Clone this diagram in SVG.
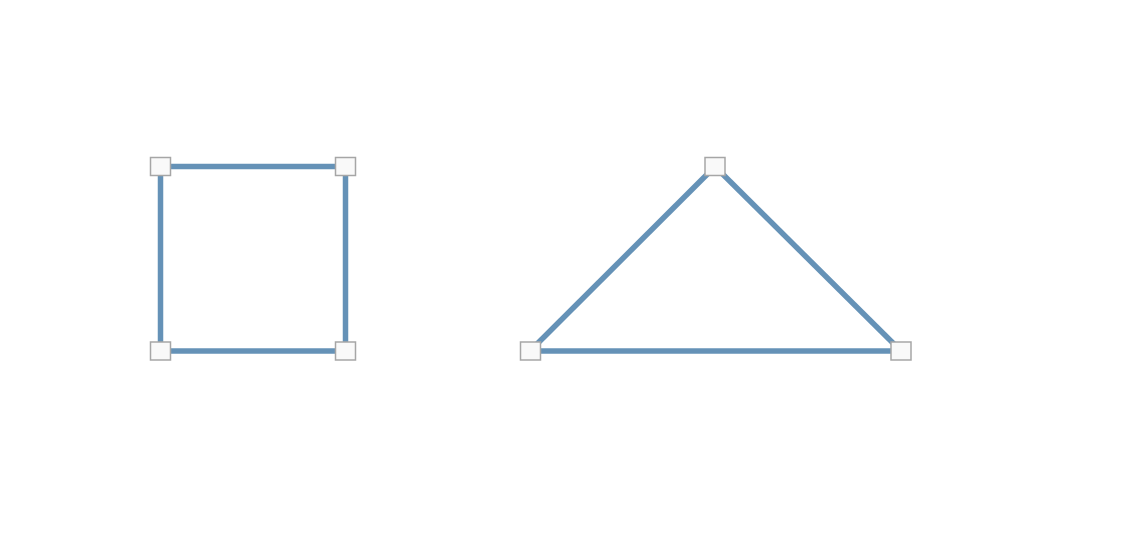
<svg xmlns="http://www.w3.org/2000/svg" width="1130" height="544" viewBox="0 0 1130 544">
<style>
.edge{stroke:#6592b7;stroke-width:5.5;fill:none;stroke-linecap:butt}
.h{fill:#f9f9f9;stroke:#a6a6a6;stroke-width:1.5}
</style>
<rect width="1130" height="544" fill="#ffffff"/>
<g id="connectors">
<line class="edge" x1="160.5" y1="166.5" x2="345.5" y2="166.5"/>
<line class="edge" x1="345.5" y1="166.5" x2="345.5" y2="351"/>
<line class="edge" x1="345.5" y1="351" x2="160.5" y2="351"/>
<line class="edge" x1="160.5" y1="351" x2="160.5" y2="166.5"/>
<line class="edge" x1="715" y1="166.5" x2="901" y2="351"/>
<line class="edge" x1="901" y1="351" x2="530" y2="351"/>
<line class="edge" x1="530" y1="351" x2="715" y2="166.5"/>
</g>
<g id="n1"><rect class="h" x="150.5" y="157.5" width="20" height="18"/></g>
<g id="n2"><rect class="h" x="335.5" y="157.5" width="20" height="18"/></g>
<g id="n3"><rect class="h" x="150.5" y="342" width="20" height="18"/></g>
<g id="n4"><rect class="h" x="335.5" y="342" width="20" height="18"/></g>
<g id="n5"><rect class="h" x="705" y="157.5" width="20" height="18"/></g>
<g id="n6"><rect class="h" x="520.5" y="342" width="20" height="18"/></g>
<g id="n7"><rect class="h" x="891" y="342" width="20" height="18"/></g>
</svg>
